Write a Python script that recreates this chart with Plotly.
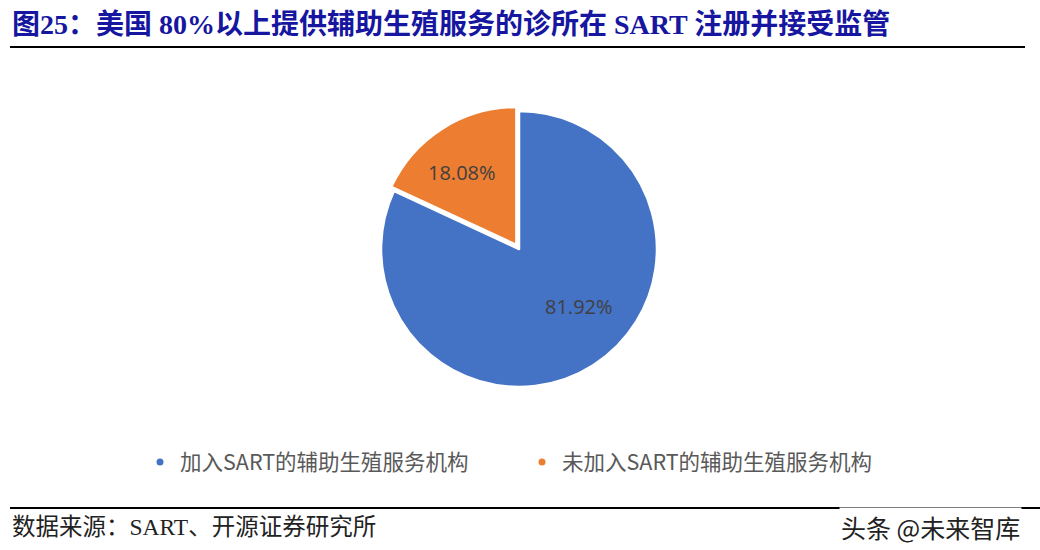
import plotly.graph_objects as go

categories = ["加入SART的辅助生殖服务机构", "未加入SART的辅助生殖服务机构"]
values = [81.92, 18.08]
colors = ["#4472C4", "#ED7D31"]
pulls = [0, 0.035]

title_text = "图25：美国 80%以上提供辅助生殖服务的诊所在 SART 注册并接受监管"
source_text = "数据来源：SART、开源证券研究所"
watermark_text = "头条 @未来智库"

W, H = 1040, 550
cx, cy, r = 519, 249, 137
rr = r * (1 + pulls[1]) + 1

# label positions (pixels) for the slice value labels
label_pos = [(579, 306), (462, 172)]

fig = go.Figure()
fig.add_trace(go.Pie(
    labels=categories, values=values,
    marker=dict(colors=colors, line=dict(color="white", width=2.5)),
    sort=False, direction="clockwise", rotation=0,
    pull=pulls, textinfo="none",
    showlegend=False, hoverinfo="label+percent",
    domain=dict(x=[(cx - rr) / W, (cx + rr) / W], y=[1 - (cy + rr) / H, 1 - (cy - rr) / H]),
))

for name, c in zip(categories, colors):
    fig.add_trace(go.Scatter(
        x=[None], y=[None], mode="markers", name=name,
        marker=dict(symbol="circle", size=7, color=c),
        showlegend=True,
    ))

annotations = [
    dict(text="<b>" + title_text + "</b>", xref="paper", yref="paper",
         x=10 / W, y=1 - 25 / H, xanchor="left", yanchor="middle", showarrow=False,
         font=dict(family="Liberation Serif, Noto Sans CJK SC", size=28, color="#1616A0")),
    dict(text=source_text, xref="paper", yref="paper",
         x=10 / W, y=1 - 527 / H, xanchor="left", yanchor="middle", showarrow=False,
         font=dict(family="Liberation Serif, Noto Sans CJK SC", size=23.5, color="#222222")),
    dict(text=watermark_text, xref="paper", yref="paper",
         x=1022 / W, y=1 - 527 / H, xanchor="right", yanchor="middle", showarrow=False,
         bgcolor="white",
         font=dict(family="Noto Sans CJK SC", size=25, color="#222222")),
]
for v, (px, py) in zip(values, label_pos):
    annotations.append(dict(
        text=f"{v:.2f}%", xref="paper", yref="paper",
        x=px / W, y=1 - py / H, xanchor="center", yanchor="middle", showarrow=False,
        font=dict(family="Open Sans, Noto Sans", size=20, color="#404040")))

fig.update_layout(
    width=W, height=H,
    margin=dict(l=0, r=0, t=0, b=0),
    paper_bgcolor="white", plot_bgcolor="white",
    xaxis=dict(visible=False), yaxis=dict(visible=False),
    legend=dict(
        orientation="h", x=140 / W, xanchor="left", y=1 - 462 / H, yanchor="middle",
        font=dict(family="Noto Sans CJK SC, Noto Sans", size=21.5, color="#595959"),
        itemwidth=30, entrywidth=337, entrywidthmode="pixels",
        bgcolor="rgba(0,0,0,0)",
    ),
    shapes=[
        dict(type="line", xref="paper", yref="paper", x0=10 / W, x1=1025 / W,
             y0=1 - 47 / H, y1=1 - 47 / H, line=dict(color="black", width=2)),
        dict(type="line", xref="paper", yref="paper", x0=10 / W, x1=1040 / W,
             y0=1 - 508 / H, y1=1 - 508 / H, line=dict(color="black", width=2)),
    ],
    annotations=annotations,
)

fig.write_html("out.html", config={"displayModeBar": False},
               post_script="document.body.style.margin='0px';")
